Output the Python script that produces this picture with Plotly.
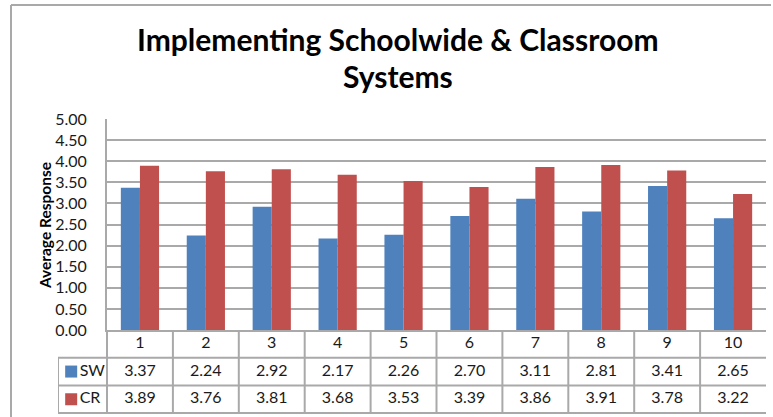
import plotly.graph_objects as go

# ---- data ----
categories = ["1", "2", "3", "4", "5", "6", "7", "8", "9", "10"]
sw_values = [3.37, 2.24, 2.92, 2.17, 2.26, 2.70, 3.11, 2.81, 3.41, 2.65]
cr_values = [3.89, 3.76, 3.81, 3.68, 3.53, 3.39, 3.86, 3.91, 3.78, 3.22]
series_names = ["SW", "CR"]
title_lines = ["Implementing Schoolwide & Classroom", "Systems"]
y_title = "Average Response"

# ---- style ----
W, H = 773, 417
L, R, T, B = 58, 7, 119, 0
pw, ph = W - L - R, H - T - B
BLUE, RED = "#4f81bd", "#c0504d"
GRID = "#a9a9a9"
FONT = "Lato"
CAT_PX = (766 - 107) / len(categories)       # pixel width of one category
LEG = (107 - 58) / CAT_PX                      # legend column width, category units
ROW_PX = 27.7


def px(x):
    return (x - L) / pw


def py(y):
    return (H - B - y) / ph


D = py(330)  # split between chart and table

fig = go.Figure()

# bars
fig.add_trace(go.Bar(x=categories, y=sw_values, name=series_names[0],
                     marker=dict(color=BLUE, line=dict(width=0)),
                     xaxis="x", yaxis="y", showlegend=False))
fig.add_trace(go.Bar(x=categories, y=cr_values, name=series_names[1],
                     marker=dict(color=RED, line=dict(width=0)),
                     xaxis="x", yaxis="y", showlegend=False))

# data table (drawn on second subplot)
n = len(categories)
idx = list(range(n))
left = -0.5 - LEG
lx, ly = [], []
for r in [1, 2, 3]:
    lx += [left, n - 0.5, None]
    ly += [r, r, None]
lx += [-0.5, n - 0.5, None]
ly += [0, 0, None]
lx += [left, left, None]
ly += [1, 3, None]
for k in range(n):
    lx += [k - 0.5, k - 0.5, None]
    ly += [0, 3, None]
fig.add_trace(go.Scatter(x=lx, y=ly, mode="lines", line=dict(color=GRID, width=2),
                         xaxis="x2", yaxis="y2", hoverinfo="skip", showlegend=False))

tfont = dict(family=FONT, size=16, color="#1a1a1a")
fig.add_trace(go.Scatter(x=idx, y=[0.5] * n, text=categories, mode="text",
                         textfont=tfont, xaxis="x2", yaxis="y2",
                         hoverinfo="skip", showlegend=False, cliponaxis=False))
for row, (vals, name, col) in enumerate([(sw_values, series_names[0], BLUE),
                                          (cr_values, series_names[1], RED)]):
    yrow = 1.5 + row
    fig.add_trace(go.Scatter(x=idx, y=[yrow] * n, text=[f"{v:.2f}" for v in vals],
                             mode="text", textfont=tfont, xaxis="x2", yaxis="y2",
                             hoverinfo="skip", showlegend=False, cliponaxis=False))
    fig.add_trace(go.Scatter(x=[left + 0.2], y=[yrow], text=[name],
                             mode="markers+text", textposition="middle right",
                             marker=dict(symbol="square", size=12, color=col),
                             textfont=tfont, xaxis="x2", yaxis="y2",
                             hoverinfo="skip", showlegend=False, cliponaxis=False))

fig.update_layout(
    width=W, height=H,
    margin=dict(l=L, r=R, t=T, b=B, autoexpand=False),
    paper_bgcolor="white", plot_bgcolor="white",
    font=dict(family=FONT, size=16, color="#1a1a1a"),
    barmode="group", bargap=0.42, bargroupgap=0,
    xaxis=dict(domain=[px(107), 1], anchor="y", range=[-0.5, n - 0.5],
               showticklabels=False, showgrid=False, zeroline=False, automargin=False,
               showline=True, linecolor=GRID, linewidth=2, ticks=""),
    yaxis=dict(domain=[D, 1], anchor="x", range=[0, 5], dtick=0.5, automargin=False,
               tickformat=".2f", showgrid=True, gridcolor=GRID, gridwidth=2,
               zeroline=False, showline=True, linecolor=GRID, linewidth=2,
               ticks="", ticklabelstandoff=15,
               tickfont=dict(family=FONT, size=16, color="#1a1a1a")),
    xaxis2=dict(domain=[0, 1], anchor="y2", range=[left, n - 0.5],
                visible=False, automargin=False),
    yaxis2=dict(domain=[0, D], anchor="x2", range=[(330 - (H - B)) / -ROW_PX, 0],
                visible=False, automargin=False),
    annotations=[
        dict(text=f"<b>{title_lines[0]}</b>", x=px(398), y=py(39), xref="paper",
             yref="paper", showarrow=False, xanchor="center", yanchor="middle",
             font=dict(family=FONT, size=30, color="black")),
        dict(text=f"<b>{title_lines[1]}</b>", x=px(398), y=py(76), xref="paper",
             yref="paper", showarrow=False, xanchor="center", yanchor="middle",
             font=dict(family=FONT, size=30, color="black")),
        dict(text=f"<b>{y_title}</b>", x=px(45), y=py(226), xref="paper",
             yref="paper", showarrow=False, textangle=-90, xanchor="center",
             yanchor="middle", font=dict(family=FONT, size=15.5, color="black")),
    ],
    shapes=[
        dict(type="line", xref="paper", yref="paper", x0=px(11), x1=px(771),
             y0=py(5), y1=py(5), line=dict(color=GRID, width=2)),
        dict(type="line", xref="paper", yref="paper", x0=px(11), x1=px(11),
             y0=py(5), y1=py(H), line=dict(color=GRID, width=2)),
    ],
)

fig.write_html(
    "out.html",
    config={"displayModeBar": False},
    post_script="document.body.style.margin='0';document.body.style.padding='0';"
                "document.body.style.overflow='hidden';",
)
